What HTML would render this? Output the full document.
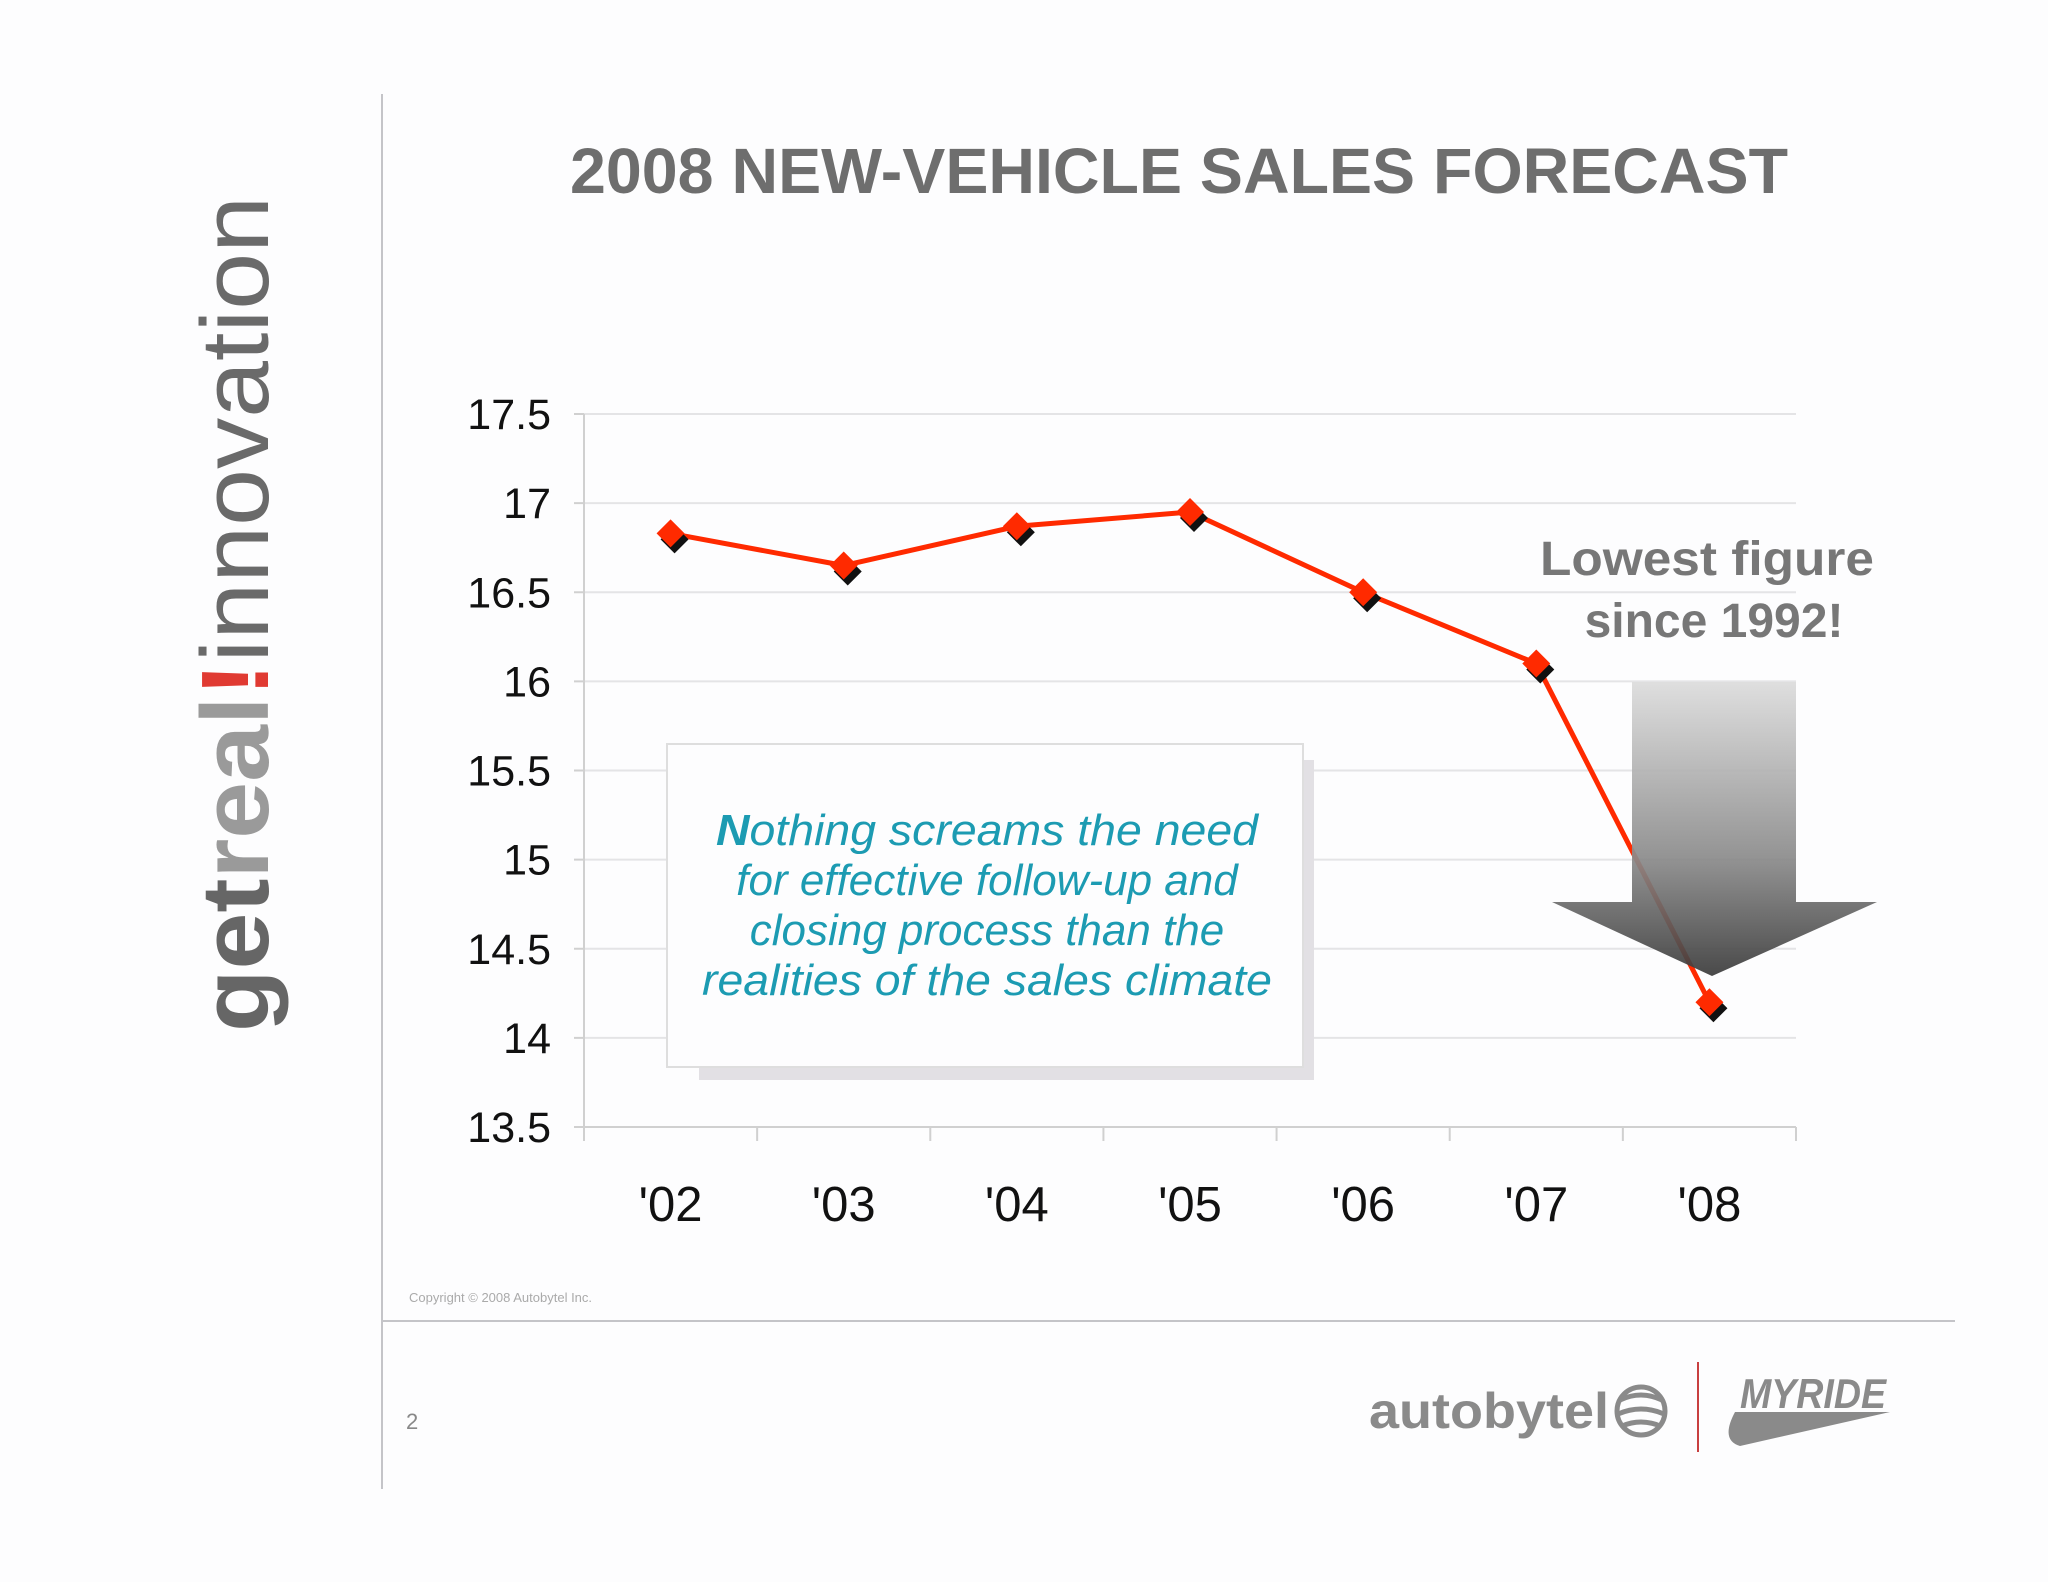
<!DOCTYPE html>
<html><head><meta charset="utf-8"><style>
html,body{margin:0;padding:0;background:#fdfdfe;}
svg{display:block;font-family:"Liberation Sans",Arial,sans-serif;}
</style></head><body>
<svg id="chart" width="2048" height="1582" viewBox="0 0 2048 1582" xmlns="http://www.w3.org/2000/svg">
<defs>
<linearGradient id="arrowGrad" x1="0" y1="0" x2="0" y2="1">
<stop offset="0" stop-color="#dcdcdc"/><stop offset="0.6" stop-color="#8a8a8a"/><stop offset="1" stop-color="#3a3a3a"/>
</linearGradient>
</defs>
<rect width="2048" height="1582" fill="#fdfdfe"/>
<text transform="translate(268,1032) rotate(-90)" font-size="96" textLength="836" lengthAdjust="spacingAndGlyphs"><tspan fill="#666" font-weight="bold">get</tspan><tspan fill="#9a9a9a" font-weight="bold">real</tspan><tspan fill="#e03a32" font-weight="bold">!</tspan><tspan fill="#6a6a6a">innovation</tspan></text>
<line x1="382" y1="94" x2="382" y2="1489" stroke="#c4c4c8" stroke-width="2"/>
<line x1="381" y1="1321" x2="1955" y2="1321" stroke="#c4c4c8" stroke-width="2"/>
<text x="1179" y="193" text-anchor="middle" font-size="64" font-weight="bold" fill="#6e6e6e" textLength="1218" lengthAdjust="spacingAndGlyphs">2008 NEW-VEHICLE SALES FORECAST</text>
<g id="grid"></g>
<g id="axes"></g>
<g>
<rect x="699" y="760" width="615" height="320" fill="#e2e0e4"/>
<rect x="667" y="744" width="636" height="323" fill="#fdfdfe" stroke="#dedede" stroke-width="2"/>
<g font-size="44" font-style="italic" fill="#1c9bb2" text-anchor="middle">
<text x="987" y="845" textLength="542" lengthAdjust="spacingAndGlyphs"><tspan font-weight="bold">N</tspan>othing screams the need</text>
<text x="987" y="895">for effective follow-up and</text>
<text x="987" y="945">closing process than the</text>
<text x="987" y="995" textLength="570" lengthAdjust="spacingAndGlyphs">realities of the sales climate</text>
</g>
</g>
<g id="series"></g>
<polygon points="1632,682 1796,682 1796,902 1877,902 1712,976 1552,902 1632,902" fill="url(#arrowGrad)" opacity="0.92"/>
<g font-size="48" font-weight="bold" fill="#777" text-anchor="middle">
<text x="1707" y="575" textLength="334" lengthAdjust="spacingAndGlyphs">Lowest figure</text>
<text x="1714" y="637">since 1992!</text>
</g>
<text x="409" y="1302" font-size="13" fill="#aaa">Copyright © 2008 Autobytel Inc.</text>
<text x="406" y="1429" font-size="22" fill="#888">2</text>
<text x="1369" y="1428" font-size="50" font-weight="bold" fill="#8a8a8a" textLength="240" lengthAdjust="spacingAndGlyphs">autobytel</text>
<g fill="none" stroke="#8a8a8a" stroke-width="5">
<circle cx="1641" cy="1411" r="24"/><path d="M1620 1400 Q1641 1390 1662 1400 M1618 1414 Q1641 1404 1664 1414 M1622 1426 Q1641 1418 1660 1426"/>
</g>
<line x1="1698" y1="1362" x2="1698" y2="1452" stroke="#c84040" stroke-width="2"/>
<text x="1740" y="1408" font-size="42" font-weight="bold" font-style="italic" fill="#8a8a8a" textLength="146" lengthAdjust="spacingAndGlyphs">MYRIDE</text>
<path d="M1735 1412 L1890 1412 L1740 1446 Q1720 1440 1735 1412 Z" fill="#8a8a8a"/>
<script>
const categories = ["'02","'03","'04","'05","'06","'07","'08"];
const salesValues = [16.83, 16.65, 16.87, 16.95, 16.5, 16.1, 14.2];
const yTicks = [13.5, 14, 14.5, 15, 15.5, 16, 16.5, 17, 17.5];
const yTickLabels = ["13.5","14","14.5","15","15.5","16","16.5","17","17.5"];
const NS = "http://www.w3.org/2000/svg";
const X0 = 584, X1 = 1796, Y0 = 1127, Y1 = 414, YMIN = 13.5, YMAX = 17.5;
const band = (X1 - X0) / categories.length;
function xScale(i){ return X0 + band * (i + 0.5); }
function yScale(v){ return Y0 - (v - YMIN) / (YMAX - YMIN) * (Y0 - Y1); }
function mk(tag, attrs, parent){ const e = document.createElementNS(NS, tag); for (const k in attrs) e.setAttribute(k, attrs[k]); parent.appendChild(e); return e; }
const grid = document.getElementById('grid'), axes = document.getElementById('axes'), series = document.getElementById('series');
yTicks.forEach((t, i) => {
  const y = yScale(t);
  if (i > 0) {
    const g = mk('line', {x1: X0, x2: X1, y1: y, y2: y, stroke: '#e4e4e6', 'stroke-width': 2}, grid);
    
    
  }
  const tk = mk('line', {x1: X0 - 10, x2: X0, y1: y, y2: y, stroke: '#d0d0d0', 'stroke-width': 2}, axes);
  
  
  const lb = mk('text', {x: 551, y: y + 15, 'text-anchor': 'end', 'font-size': 43, fill: '#111'}, axes);
  lb.textContent = yTickLabels[i];
  
  
});
const ya = mk('line', {x1: X0, x2: X0, y1: Y1, y2: Y0 + 14, stroke: '#d0d0d0', 'stroke-width': 2}, axes);


const xa = mk('line', {x1: X0, x2: X1, y1: Y0, y2: Y0, stroke: '#d0d0d0', 'stroke-width': 2}, axes);


for (let i = 0; i <= categories.length; i++) {
  const x = X0 + band * i;
  const t = mk('line', {x1: x, x2: x, y1: Y0, y2: Y0 + 14, stroke: '#d0d0d0', 'stroke-width': 2}, axes);
  
  
}
categories.forEach((c, i) => {
  const t = mk('text', {x: xScale(i), y: 1221, 'text-anchor': 'middle', 'font-size': 49, fill: '#111'}, axes);
  t.textContent = c;
  
  
});
const pts = salesValues.map((v, i) => xScale(i) + ',' + yScale(v)).join(' ');
const line = mk('polyline', {points: pts, fill: 'none', stroke: '#ff2a00', 'stroke-width': 5, 'stroke-linejoin': 'round'}, series);


salesValues.forEach((v, i) => {
  const x = xScale(i), y = yScale(v), r = 14;
  const sh = mk('polygon', {points: `${x+4},${y-r+6} ${x+r+4},${y+6} ${x+4},${y+r+6} ${x-r+4},${y+6}`, fill: '#111'}, series);
  
  
  const m = mk('polygon', {points: `${x},${y-r} ${x+r},${y} ${x},${y+r} ${x-r},${y}`, fill: '#ff2a00'}, series);
  
  
});
</script>
</svg>
</body></html>
